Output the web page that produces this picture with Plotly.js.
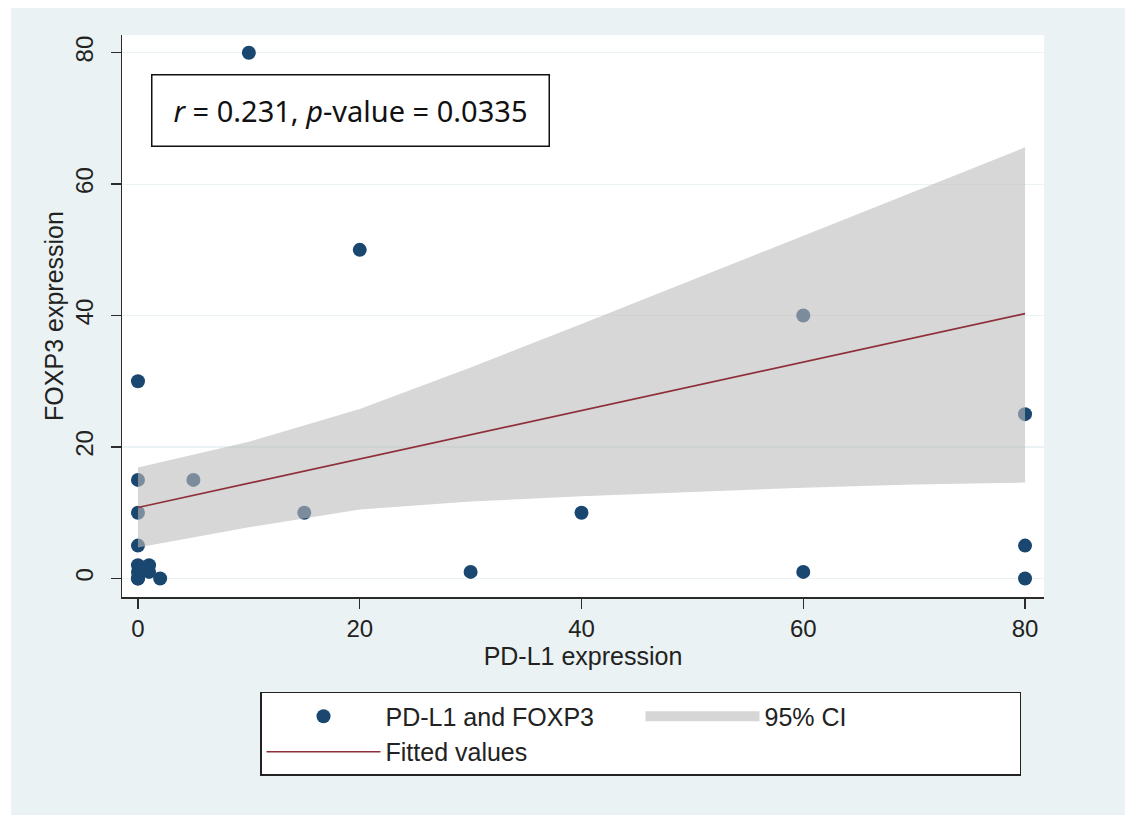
<!DOCTYPE html>
<html>
<head>
<meta charset="utf-8">
<script src="https://cdn.plot.ly/plotly-3.0.1.min.js"></script>
<style>
  html, body { margin: 0; padding: 0; background: #ffffff; width: 1133px; height: 815px; overflow: hidden; }
  #chart { position: absolute; left: 11px; top: 8px; width: 1114px; height: 807px; }
</style>
</head>
<body>
<div id="chart"></div>
<script>
// Observed points (PD-L1 expression, FOXP3 expression)
const pdl1  = [10, 20, 60, 0, 80, 0, 5, 0, 15, 40, 0, 80, 30, 60, 80, 2, 0, 0, 0, 1, 1, 0];
const foxp3 = [80, 50, 40, 30, 25, 15, 15, 10, 10, 10, 5, 5, 1, 1, 0, 0, 0, 1, 2, 1, 2, 0];

// Fitted line and 95% CI
const fitX     = [0, 10, 20, 30, 40, 50, 60, 70, 80];
const fitY     = [10.8, 14.5, 18.2, 21.9, 25.6, 29.3, 33.0, 36.6, 40.3];
const ciUpper  = [16.9, 20.8, 25.8, 32.1, 38.7, 45.4, 52.2, 58.9, 65.6];
const ciLower  = [4.7, 7.8, 10.5, 11.7, 12.5, 13.2, 13.8, 14.3, 14.6];

const xTicks = [0, 20, 40, 60, 80];
const yTicks = [0, 20, 40, 60, 80];

const seriesName = "PD-L1 and FOXP3";
const ciName = "95% CI";
const fitName = "Fitted values";
const statText = "<i>r</i> = 0.231, <i>p</i>-value = 0.0335";
const xTitle = "PD-L1 expression";
const yTitle = "FOXP3 expression";

const navy = "#1a476f";
const maroon = "#8e2f3a";
const ciFill = "rgba(188,188,188,0.6)";
const axisCol = "#2b2b2b";
const font = "Arial, 'Liberation Sans', sans-serif";

const traces = [
  {
    type: "scatter", mode: "markers", x: pdl1, y: foxp3, name: seriesName,
    marker: { color: navy, size: 14, line: { width: 0 } },
    hoverinfo: "x+y"
  },
  {
    type: "scatter", mode: "lines", x: fitX, y: ciLower, showlegend: false,
    line: { width: 0, color: "rgba(0,0,0,0)" }, hoverinfo: "skip"
  },
  {
    type: "scatter", mode: "lines", x: fitX, y: ciUpper, name: ciName, showlegend: false,
    fill: "tonexty", fillcolor: ciFill,
    line: { width: 0, color: "rgba(0,0,0,0)" }, hoverinfo: "skip"
  },
  {
    // legend swatch for the CI band
    type: "scatter", mode: "lines", x: [null], y: [null], name: ciName,
    line: { width: 18, color: "#d6d6d6" }, hoverinfo: "skip"
  },
  {
    type: "scatter", mode: "lines", x: fitX, y: fitY, name: fitName,
    line: { color: maroon, width: 1.6 }
  }
];

const layout = {
  width: 1114, height: 807,
  paper_bgcolor: "#eaf2f3",
  plot_bgcolor: "#ffffff",
  margin: { l: 111, r: 81, t: 27, b: 218, pad: 0 },
  font: { family: font, size: 24, color: "#222222" },
  showlegend: true,
  xaxis: {
    range: [-1.44, 81.71], autorange: false,
    tickvals: xTicks, ticktext: xTicks.map(String),
    ticks: "outside", ticklen: 10, tickwidth: 1.5, tickcolor: axisCol,
    showline: true, linecolor: axisCol, linewidth: 1.5, mirror: false,
    showgrid: false, zeroline: false,
    tickfont: { size: 24, family: font, color: "#222222" },
    title: { text: xTitle, font: { size: 25, family: font, color: "#222222" }, standoff: 6 },
    automargin: false
  },
  yaxis: {
    range: [-2.82, 82.69], autorange: false,
    tickvals: yTicks, ticktext: yTicks.map(String),
    ticks: "outside", ticklen: 10, tickwidth: 1.5, tickcolor: axisCol,
    tickangle: -90, ticklabelstandoff: 8,
    showline: true, linecolor: axisCol, linewidth: 1.5, mirror: false,
    showgrid: true, gridcolor: "#eaf2f3", gridwidth: 1.2,
    zeroline: false,
    tickfont: { size: 24, family: font, color: "#222222" },
    title: { text: yTitle, font: { size: 25, family: font, color: "#222222" }, standoff: 0 },
    automargin: false
  },
  yaxis2: {
    overlaying: "y", side: "right", anchor: "x",
    range: [-2.82, 82.69], autorange: false,
    tickvals: yTicks, showticklabels: false,
    ticks: "outside", ticklen: 4, tickwidth: 1.5, tickcolor: axisCol,
    showline: true, linecolor: axisCol, linewidth: 1.5,
    showgrid: false, zeroline: false
  },
  legend: {
    orientation: "h",
    x: 0.1497, xanchor: "left",
    y: -0.169, yanchor: "top",
    bgcolor: "#ffffff", bordercolor: "#222222", borderwidth: 1.5,
    font: { size: 25, family: font, color: "#222222" },
    itemwidth: 114,
    entrywidth: 250,
    traceorder: "normal"
  },
  annotations: [
    {
      xref: "paper", yref: "paper", x: 0.2473, y: 0.8648,
      xanchor: "center", yanchor: "middle",
      text: statText, showarrow: false,
      font: { size: 29, family: "'Noto Sans', 'Open Sans', sans-serif", color: "#111111" },
      bgcolor: "#ffffff", bordercolor: "#111111", borderwidth: 1.5, borderpad: 4,
      width: 388, height: 62, align: "center"
    }
  ]
};

Plotly.newPlot("chart", traces, layout, { displayModeBar: false, staticPlot: true });
</script>
</body>
</html>
